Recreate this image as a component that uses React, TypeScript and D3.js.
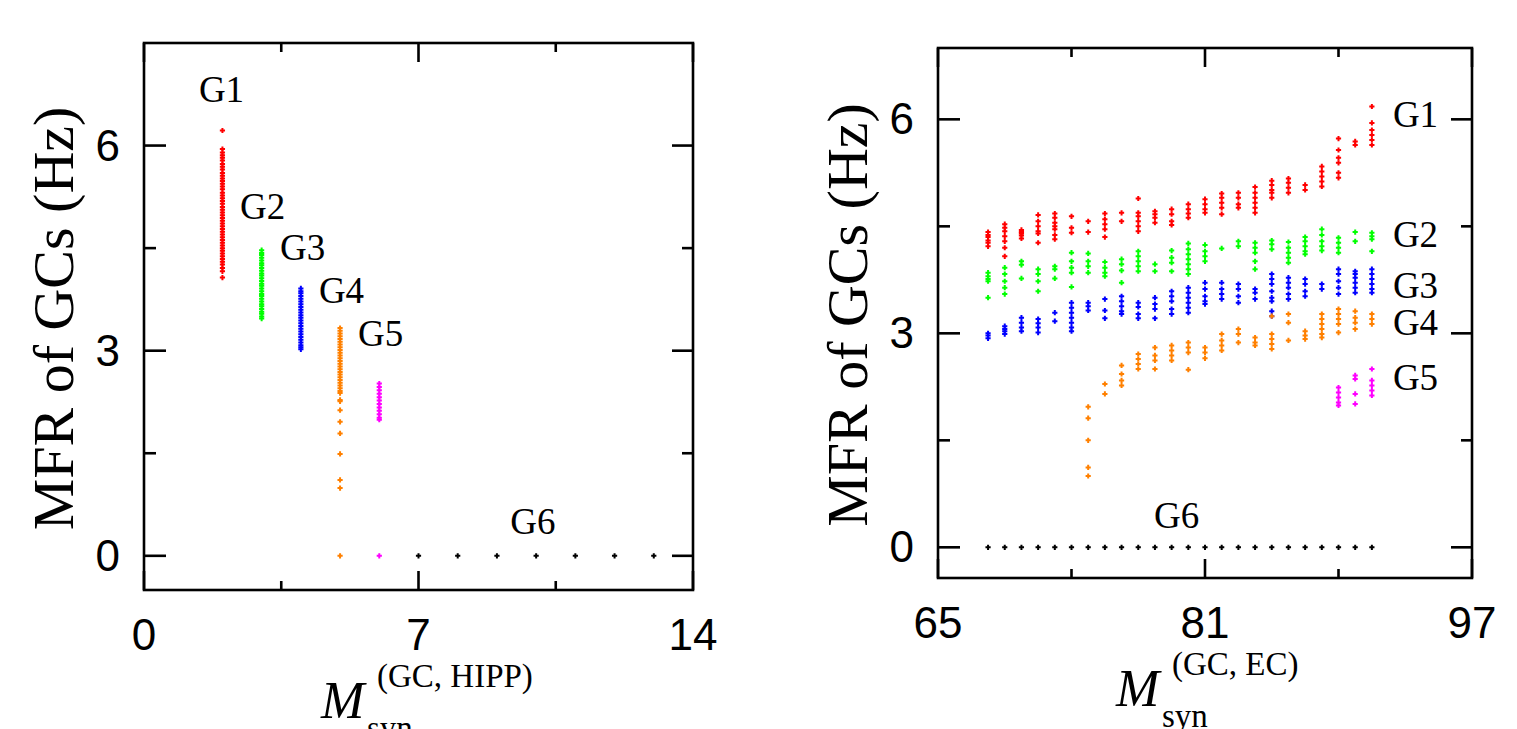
import React, { useEffect, useRef } from 'react';
import * as d3 from 'd3';

// group names and colours
const groups = ['G1', 'G2', 'G3', 'G4', 'G5', 'G6'];
const colors = ['#ff0000', '#00ff00', '#0000ff', '#ff8000', '#ff00ff', '#000000'];

// left panel: M_syn^(GC, HIPP)
const hippM = [2, 3, 4, 5, 6];
const hippG1 = [6.22, 5.95, 5.9, 5.86, 5.82, 5.78, 5.73, 5.69, 5.65, 5.6, 5.56, 5.52, 5.48, 5.44, 5.4, 5.36, 5.31, 5.27,
  5.23, 5.19, 5.15, 5.1, 5.06, 5.02, 4.98, 4.94, 4.9, 4.86, 4.82, 4.78, 4.74, 4.7, 4.66, 4.62, 4.58, 4.54, 4.5, 4.46,
  4.42, 4.38, 4.34, 4.3, 4.26, 4.21, 4.16, 4.07];
const hippG2 = [4.47, 4.43, 4.4, 4.36, 4.32, 4.28, 4.25, 4.21, 4.17, 4.13, 4.1, 4.06, 4.02, 3.98, 3.95, 3.91, 3.87,
  3.83, 3.8, 3.76, 3.72, 3.68, 3.65, 3.61, 3.57, 3.54, 3.5, 3.47];
const hippG3 = [3.91, 3.87, 3.84, 3.8, 3.76, 3.72, 3.68, 3.64, 3.6, 3.56, 3.52, 3.48, 3.44, 3.4, 3.36, 3.32, 3.28,
  3.24, 3.2, 3.16, 3.12, 3.08, 3.05, 3.02];
const hippG4 = [3.33, 3.29, 3.25, 3.21, 3.17, 3.13, 3.09, 3.05, 3.01, 2.97, 2.93, 2.89, 2.85, 2.81, 2.77, 2.73, 2.69,
  2.65, 2.61, 2.57, 2.53, 2.49, 2.45, 2.41, 2.38, 2.28, 2.26, 2.13, 1.96, 1.79, 1.49, 1.11, 0.99, 0];
const hippG5 = [2.52, 2.47, 2.42, 2.37, 2.32, 2.27, 2.22, 2.17, 2.12, 2.07, 2.02, 1.99, 0];
const hippG6M = [7, 8, 9, 10, 11, 12, 13];
const hippG6 = [0, 0, 0, 0, 0, 0, 0];

// right panel: M_syn^(GC, EC)
const ecM = [68, 69, 70, 71, 72, 73, 74, 75, 76, 77, 78, 79, 80, 81, 82, 83, 84, 85, 86, 87, 88, 89, 90, 91];
const ecG1 = [
  [4.42, 4.38, 4.35, 4.3, 4.27, 4.22], [4.53, 4.48, 4.43, 4.36, 4.29, 4.2, 4.08], [4.45, 4.42, 4.4, 4.37, 4.33],
  [4.66, 4.57, 4.5, 4.43, 4.4, 4.27], [4.68, 4.62, 4.55, 4.5, 4.46, 4.38, 4.32], [4.64, 4.48, 4.41], [4.57, 4.42],
  [4.68, 4.6, 4.53, 4.46, 4.35], [4.69, 4.57], [4.89, 4.69, 4.64, 4.57, 4.5, 4.43], [4.71, 4.67, 4.62, 4.55],
  [4.74, 4.67, 4.57, 4.52], [4.81, 4.74, 4.68, 4.62], [4.88, 4.81, 4.74, 4.69], [4.96, 4.9, 4.83, 4.76, 4.67],
  [4.97, 4.9, 4.81, 4.76], [5.05, 4.97, 4.9, 4.83, 4.76, 4.69], [5.14, 5.08, 5.01, 4.97, 4.9], [5.17, 5.11, 5.04, 4.97],
  [5.08, 5.01], [5.34, 5.27, 5.2, 5.13, 5.06], [5.73, 5.57, 5.46, 5.39, 5.25, 5.18], [5.69, 5.64],
  [6.18, 5.95, 5.85, 5.78, 5.71, 5.64],
];
const ecG2 = [
  [3.85, 3.8, 3.76, 3.73, 3.5], [3.92, 3.83, 3.73, 3.64, 3.55], [4.01, 3.96, 3.77], [3.9, 3.83, 3.73, 3.59],
  [3.94, 3.9, 3.77], [4.13, 4.01, 3.92, 3.85, 3.65], [4.12, 4.01, 3.94, 3.85], [4.0, 3.92, 3.85, 3.8],
  [4.04, 3.97, 3.88, 3.71], [4.15, 4.08, 4.01, 3.94, 3.87], [3.97, 3.87], [4.16, 4.06, 3.99, 3.87],
  [4.26, 4.18, 4.11, 4.04, 3.97, 3.9, 3.83], [4.24, 4.15, 4.08, 4.01], [4.19], [4.29, 4.22],
  [4.27, 4.2, 4.13, 4.01, 3.9], [4.3, 4.25, 4.18], [4.28, 4.2, 4.13, 4.06, 3.99], [4.35, 4.29, 4.22, 4.15, 4.11],
  [4.46, 4.38, 4.29, 4.22, 4.16], [4.34, 4.27, 4.2, 4.13], [4.42, 4.29], [4.41, 4.36, 4.32, 4.15],
];
const ecG3 = [
  [3.0, 2.97, 2.93], [3.1, 3.06, 3.03, 2.99], [3.22, 3.15, 3.08, 3.03], [3.2, 3.14, 3.08, 3.01], [3.29, 3.17],
  [3.43, 3.36, 3.29, 3.22, 3.15, 3.08, 3.03], [3.43, 3.38, 3.32], [3.48, 3.32, 3.21], [3.52, 3.45, 3.38, 3.31, 3.27],
  [3.43, 3.37, 3.27, 3.21], [3.5, 3.41, 3.34, 3.21], [3.59, 3.52, 3.45, 3.34, 3.27],
  [3.64, 3.57, 3.5, 3.43, 3.36, 3.29], [3.71, 3.62, 3.52, 3.45, 3.41], [3.71, 3.62, 3.55, 3.48],
  [3.69, 3.62, 3.52, 3.43], [3.62, 3.57, 3.48], [3.83, 3.76, 3.69, 3.59, 3.5, 3.45, 3.31, 3.24],
  [3.78, 3.71, 3.64, 3.55, 3.48], [3.76, 3.69, 3.59, 3.52], [3.69, 3.62], [3.9, 3.83, 3.73, 3.64, 3.55],
  [3.87, 3.83, 3.78, 3.71, 3.64, 3.57], [3.9, 3.83, 3.76, 3.69, 3.62, 3.57],
];
const ecG4M = [74, 75, 76, 77, 78, 79, 80, 81, 82, 83, 84, 85, 86, 87, 88, 89, 90, 91];
const ecG4 = [
  [1.97, 1.81, 1.5, 1.12, 1.0], [2.29, 2.15], [2.55, 2.43, 2.34, 2.27], [2.71, 2.64, 2.57, 2.5],
  [2.8, 2.69, 2.62, 2.5], [2.83, 2.76, 2.69, 2.62], [2.87, 2.8, 2.73, 2.49], [2.8, 2.73, 2.65],
  [2.99, 2.9, 2.83, 2.76], [3.06, 2.99, 2.87], [2.94, 2.87, 2.83], [3.24, 2.99, 2.92, 2.85, 2.78],
  [3.27, 3.15, 2.9], [3.03, 2.97, 2.92], [3.27, 3.2, 3.13, 3.06, 2.99, 2.94], [3.34, 3.27, 3.2, 3.13, 3.01],
  [3.31, 3.22, 3.15, 3.06], [3.27, 3.2, 3.13],
];
const ecG5M = [89, 90, 91];
const ecG5 = [[2.24, 2.17, 2.1, 2.03, 1.99], [2.41, 2.36, 2.15, 2.01], [2.5, 2.34, 2.27, 2.2, 2.13]];
const ecG6 = [0, 0, 0, 0, 0, 0, 0, 0, 0, 0, 0, 0, 0, 0, 0, 0, 0, 0, 0, 0, 0, 0, 0, 0];

const yMajor = [0, 3, 6];
const yMinor = [1.5, 4.5];

// label anchors (data units, text starts here)
const hippLabelAt = [[1.4, 6.64], [2.45, 4.93], [3.47, 4.33], [4.46, 3.7], [5.46, 3.07], [9.34, 0.32]];
const ecLabelAt = [[92.26, 5.89], [92.26, 4.21], [92.26, 3.5], [92.26, 2.97], [92.26, 2.2], [77.94, 0.27]];

const W = 1517;
const H = 729;

const cross = 'M-2.6,0H2.6M0,-2.6V2.6';
const serif = '"Liberation Serif", "Times New Roman", Times, serif';
const sans = '"Liberation Sans", Arial, Helvetica, sans-serif';

function drawPanel(root, p) {
  const x = d3.scaleLinear().domain(p.xDomain).range([p.left, p.right]);
  const y = d3.scaleLinear().domain(p.yDomain).range([p.bottom, p.top]);
  const g = root.append('g');

  // points
  g.selectAll('path.pt')
    .data(p.points)
    .enter()
    .append('path')
    .attr('class', 'pt')
    .attr('d', cross)
    .attr('transform', d => `translate(${x(d.x)},${y(d.y)})`)
    .attr('stroke', d => colors[d.g])
    .attr('stroke-width', 2)
    .attr('fill', 'none');

  // frame
  g.append('rect')
    .attr('x', p.left).attr('y', p.top)
    .attr('width', p.right - p.left).attr('height', p.bottom - p.top)
    .attr('fill', 'none').attr('stroke', '#000').attr('stroke-width', 2.6);

  const tickLine = (x1, y1, x2, y2) => g.append('line')
    .attr('x1', x1).attr('y1', y1).attr('x2', x2).attr('y2', y2)
    .attr('stroke', '#000').attr('stroke-width', 2.6);

  // y ticks, both sides, inward
  yMajor.forEach(v => { tickLine(p.left, y(v), p.left + 22, y(v)); tickLine(p.right, y(v), p.right - 21, y(v)); });
  yMinor.forEach(v => { tickLine(p.left, y(v), p.left + 12, y(v)); tickLine(p.right, y(v), p.right - 11, y(v)); });
  // x ticks, top and bottom
  p.xMajor.forEach(v => { tickLine(x(v), p.bottom, x(v), p.bottom - 19); tickLine(x(v), p.top, x(v), p.top + 19); });
  p.xMinor.forEach(v => { tickLine(x(v), p.bottom, x(v), p.bottom - 9); tickLine(x(v), p.top, x(v), p.top + 9); });

  // tick labels
  g.selectAll('text.yl')
    .data(yMajor)
    .enter()
    .append('text')
    .attr('class', 'yl')
    .attr('x', p.left - 24)
    .attr('y', d => y(d) + 15)
    .attr('text-anchor', 'end')
    .style('font-family', sans)
    .style('font-size', '44px')
    .text(d => d);

  g.selectAll('text.xl')
    .data(p.xMajor)
    .enter()
    .append('text')
    .attr('class', 'xl')
    .attr('x', d => x(d))
    .attr('y', p.bottom + 60)
    .attr('text-anchor', 'middle')
    .style('font-family', sans)
    .style('font-size', '44px')
    .text(d => d);

  // group labels
  g.selectAll('text.gl')
    .data(p.labels)
    .enter()
    .append('text')
    .attr('class', 'gl')
    .attr('x', (d, i) => x(p.labelAt[i][0]))
    .attr('y', (d, i) => y(p.labelAt[i][1]))
    .style('font-family', serif)
    .style('font-size', '37px')
    .text(d => d);

  // y title
  g.append('text')
    .attr('transform', `translate(${p.left - 71},${(p.top + p.bottom) / 2 + 2}) rotate(-90)`)
    .attr('text-anchor', 'middle')
    .style('font-family', serif)
    .style('font-size', '58px')
    .text('MFR of GCs (Hz)');

  // x title: M with super/subscripts
  const mx = p.titleX;
  const my = p.bottom + 128;
  g.append('text').attr('x', mx).attr('y', my)
    .style('font-family', serif).style('font-style', 'italic').style('font-size', '52px')
    .text('M');
  g.append('text').attr('x', mx + 56).attr('y', my - 31)
    .style('font-family', serif).style('font-size', '33px')
    .text(p.sup);
  g.append('text').attr('x', mx + 46).attr('y', my + 21)
    .style('font-family', serif).style('font-size', '33px')
    .text('syn');
}

const App = () => {
  const svgRef = useRef(null);

  useEffect(() => {
    const svg = d3.select(svgRef.current);
    svg.selectAll('*').remove();

    const hippSets = [hippG1, hippG2, hippG3, hippG4, hippG5];
    const hippPoints = [];
    hippSets.forEach((vals, gi) => vals.forEach(v => hippPoints.push({ x: hippM[gi], y: v, g: gi })));
    hippG6M.forEach((m, i) => hippPoints.push({ x: m, y: hippG6[i], g: 5 }));

    const ecPoints = [];
    ecM.forEach((m, i) => ecPoints.push({ x: m, y: ecG6[i], g: 5 }));
    [ecG1, ecG2, ecG3].forEach((cols, gi) =>
      cols.forEach((vals, i) => vals.forEach(v => ecPoints.push({ x: ecM[i], y: v, g: gi }))));
    ecG4.forEach((vals, i) => vals.forEach(v => ecPoints.push({ x: ecG4M[i], y: v, g: 3 })));
    ecG5.forEach((vals, i) => vals.forEach(v => ecPoints.push({ x: ecG5M[i], y: v, g: 4 })));

    drawPanel(svg, {
      left: 144, right: 693, top: 43, bottom: 590,
      xDomain: [0, 14], yDomain: [-0.5, 7.5],
      xMajor: [0, 7, 14], xMinor: [3.5, 10.5],
      points: hippPoints, labels: groups, labelAt: hippLabelAt,
      titleX: 321, sup: '(GC, HIPP)',
    });
    drawPanel(svg, {
      left: 938, right: 1472, top: 48, bottom: 578,
      xDomain: [65, 97], yDomain: [-0.43, 7],
      xMajor: [65, 81, 97], xMinor: [73, 89],
      points: ecPoints, labels: groups, labelAt: ecLabelAt,
      titleX: 1116, sup: '(GC, EC)',
    });
  }, []);

  return (
    <svg ref={svgRef} width={W} height={H}
      style={{ position: 'absolute', left: 0, top: 0, background: '#fff', overflow: 'hidden' }} />
  );
};

export default App;
